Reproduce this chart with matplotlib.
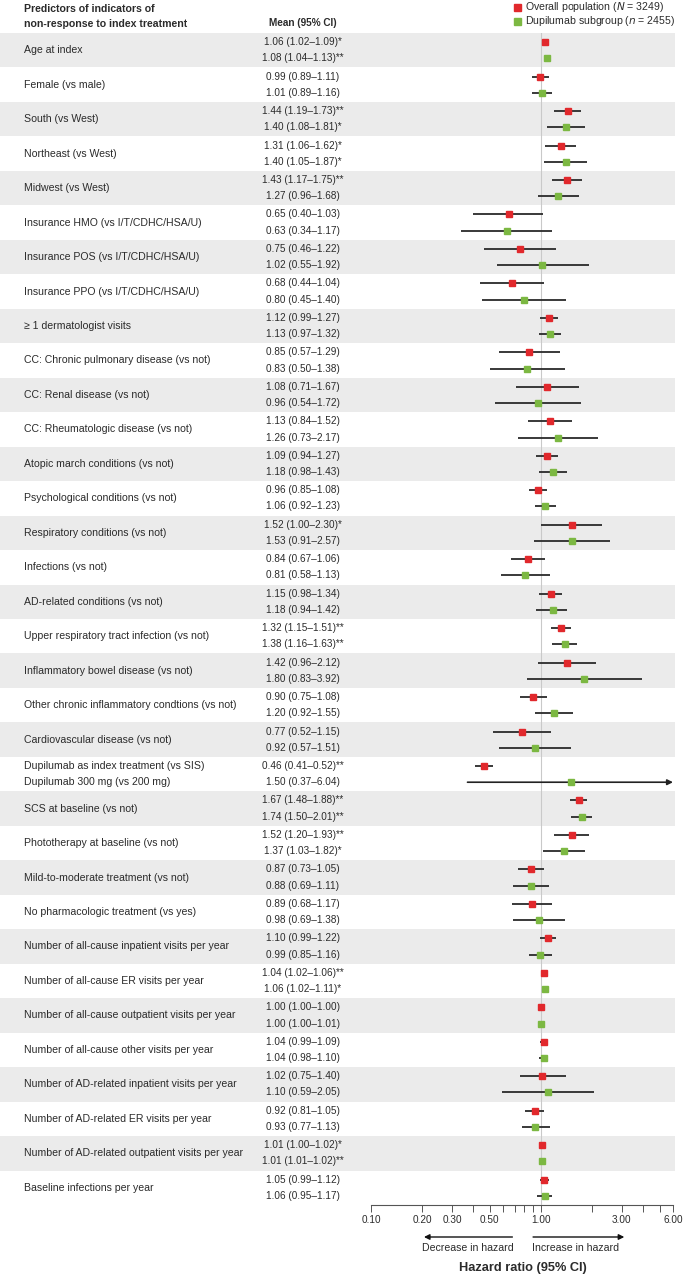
import numpy as np
import matplotlib
matplotlib.use("Agg")
import matplotlib.pyplot as plt
from matplotlib.transforms import blended_transform_factory

plt.rcParams["font.family"] = ["Liberation Sans", "DejaVu Sans"]

# ------------------------------------------------------------------ data
labels = [
    "Age at index", "Female (vs male)", "South (vs West)", "Northeast (vs West)",
    "Midwest (vs West)", "Insurance HMO (vs I/T/CDHC/HSA/U)",
    "Insurance POS (vs I/T/CDHC/HSA/U)", "Insurance PPO (vs I/T/CDHC/HSA/U)",
    "\u2265 1 dermatologist visits", "CC: Chronic pulmonary disease (vs not)",
    "CC: Renal disease (vs not)", "CC: Rheumatologic disease (vs not)",
    "Atopic march conditions (vs not)", "Psychological conditions (vs not)",
    "Respiratory conditions (vs not)", "Infections (vs not)",
    "AD-related conditions (vs not)", "Upper respiratory tract infection (vs not)",
    "Inflammatory bowel disease (vs not)",
    "Other chronic inflammatory condtions (vs not)",
    "Cardiovascular disease (vs not)",
    "Dupilumab as index treatment (vs SIS)\nDupilumab 300 mg (vs 200 mg)",
    "SCS at baseline (vs not)", "Phototherapy at baseline (vs not)",
    "Mild-to-moderate treatment (vs not)", "No pharmacologic treatment (vs yes)",
    "Number of all-cause inpatient visits per year",
    "Number of all-cause ER visits per year",
    "Number of all-cause outpatient visits per year",
    "Number of all-cause other visits per year",
    "Number of AD-related inpatient visits per year",
    "Number of AD-related ER visits per year",
    "Number of AD-related outpatient visits per year",
    "Baseline infections per year",
]

# overall population
ov_hr = [1.06, 0.99, 1.44, 1.31, 1.43, 0.65, 0.75, 0.68, 1.12, 0.85, 1.08, 1.13,
         1.09, 0.96, 1.52, 0.84, 1.15, 1.32, 1.42, 0.90, 0.77, 0.46, 1.67, 1.52,
         0.87, 0.89, 1.10, 1.04, 1.00, 1.04, 1.02, 0.92, 1.01, 1.05]
ov_lo = [1.02, 0.89, 1.19, 1.06, 1.17, 0.40, 0.46, 0.44, 0.99, 0.57, 0.71, 0.84,
         0.94, 0.85, 1.00, 0.67, 0.98, 1.15, 0.96, 0.75, 0.52, 0.41, 1.48, 1.20,
         0.73, 0.68, 0.99, 1.02, 1.00, 0.99, 0.75, 0.81, 1.00, 0.99]
ov_hi = [1.09, 1.11, 1.73, 1.62, 1.75, 1.03, 1.22, 1.04, 1.27, 1.29, 1.67, 1.52,
         1.27, 1.08, 2.30, 1.06, 1.34, 1.51, 2.12, 1.08, 1.15, 0.52, 1.88, 1.93,
         1.05, 1.17, 1.22, 1.06, 1.00, 1.09, 1.40, 1.05, 1.02, 1.12]
ov_sig = ["*", "", "**", "*", "**", "", "", "", "", "", "", "",
          "", "", "*", "", "", "**", "", "", "", "**", "**", "**",
          "", "", "", "**", "", "", "", "", "*", ""]

# dupilumab subgroup
du_hr = [1.08, 1.01, 1.40, 1.40, 1.27, 0.63, 1.02, 0.80, 1.13, 0.83, 0.96, 1.26,
         1.18, 1.06, 1.53, 0.81, 1.18, 1.38, 1.80, 1.20, 0.92, 1.50, 1.74, 1.37,
         0.88, 0.98, 0.99, 1.06, 1.00, 1.04, 1.10, 0.93, 1.01, 1.06]
du_lo = [1.04, 0.89, 1.08, 1.05, 0.96, 0.34, 0.55, 0.45, 0.97, 0.50, 0.54, 0.73,
         0.98, 0.92, 0.91, 0.58, 0.94, 1.16, 0.83, 0.92, 0.57, 0.37, 1.50, 1.03,
         0.69, 0.69, 0.85, 1.02, 1.00, 0.98, 0.59, 0.77, 1.01, 0.95]
du_hi = [1.13, 1.16, 1.81, 1.87, 1.68, 1.17, 1.92, 1.40, 1.32, 1.38, 1.72, 2.17,
         1.43, 1.23, 2.57, 1.13, 1.42, 1.63, 3.92, 1.55, 1.51, 6.04, 2.01, 1.82,
         1.11, 1.38, 1.16, 1.11, 1.01, 1.10, 2.05, 1.13, 1.02, 1.17]
du_sig = ["**", "", "*", "*", "", "", "", "", "", "", "", "",
          "", "", "", "", "", "**", "", "", "", "", "**", "*",
          "", "", "", "*", "", "", "", "", "**", ""]

major_ticks = [0.10, 0.20, 0.30, 0.50, 1.00, 3.00, 6.00]
minor_ticks = [0.4, 0.6, 0.7, 0.8, 0.9, 2, 4, 5]

RED = "#e1282c"
GREEN = "#7cb842"
BAND = "#ebebeb"
TXT = "#2b2b2b"
FS_LAB = 7.6
FS_MEAN = 7.2
FS_TICK = 7.2

# ---------------------------------------------------------------- layout
W, H = 685, 1278
fig = plt.figure(figsize=(W / 100, H / 100), dpi=100)
top_px, bot_px = 33, 1205
y0 = 1 - bot_px / H
hh = (bot_px - top_px) / H
n = len(labels)
ylim = (n - 0.5, -0.5)
off = 0.235

bg = fig.add_axes([0, y0, 1, hh])
bg.set_xlim(0, W)
bg.set_ylim(*ylim)
bg.axis("off")

ax = fig.add_axes([371 / W, y0, (673 - 371) / W, hh])
ax.set_facecolor("none")
ax.set_xscale("log")
ax.set_xlim(0.1, 6.0)
ax.set_ylim(*ylim)

for i, lab in enumerate(labels):
    if i % 2 == 0:
        bg.fill_between([0, 675], i - 0.5, i + 0.5, color=BAND, lw=0, zorder=0)
    parts = lab.split("\n")
    if len(parts) == 1:
        bg.text(24, i, lab, va="center", ha="left", fontsize=FS_LAB, color=TXT)
    else:
        bg.text(24, i - off, parts[0], va="center", ha="left", fontsize=FS_LAB, color=TXT)
        bg.text(24, i + off, parts[1], va="center", ha="left", fontsize=FS_LAB, color=TXT)
    t1 = f"{ov_hr[i]:.2f} ({ov_lo[i]:.2f}\u2013{ov_hi[i]:.2f}){ov_sig[i]}"
    t2 = f"{du_hr[i]:.2f} ({du_lo[i]:.2f}\u2013{du_hi[i]:.2f}){du_sig[i]}"
    bg.text(303, i - off, t1, va="center", ha="center", fontsize=FS_MEAN, color=TXT)
    bg.text(303, i + off, t2, va="center", ha="center", fontsize=FS_MEAN, color=TXT)

ax.axvline(1.0, color="#c9c9c9", lw=0.8, zorder=1)

ys = np.arange(n)
xmax = ax.get_xlim()[1]
for hr, lo, hi, col, dy in [(ov_hr, ov_lo, ov_hi, RED, -off),
                            (du_hr, du_lo, du_hi, GREEN, off)]:
    for i in range(n):
        y = ys[i] + dy
        if hi[i] > xmax:
            ax.annotate("", xy=(xmax, y), xytext=(lo[i], y),
                        arrowprops=dict(arrowstyle="-|>", color="#222222", lw=1.2,
                                        mutation_scale=8, shrinkA=0, shrinkB=0),
                        annotation_clip=False, zorder=2)
        else:
            ax.plot([lo[i], hi[i]], [y, y], color="#2a2a2a", lw=1.3,
                    solid_capstyle="butt", zorder=2)
    ax.plot(hr, ys + dy, "s", color=col, ms=5.0, mec=col, zorder=3)

for s in ["top", "right", "left"]:
    ax.spines[s].set_visible(False)
ax.spines["bottom"].set_color("#555555")
ax.spines["bottom"].set_linewidth(0.8)
ax.set_yticks([])
ax.set_xticks(major_ticks)
ax.set_xticklabels([f"{t:.2f}" for t in major_ticks])
ax.set_xticks(minor_ticks, minor=True)
ax.xaxis.set_minor_formatter(plt.NullFormatter())
ax.tick_params(axis="x", which="both", length=5, width=0.7, color="#555555",
               labelsize=FS_TICK, labelcolor=TXT, pad=2.5)

# direction arrows + axis title
tr = blended_transform_factory(ax.transData, fig.transFigure)
ya = 1 - 1237 / H
ax.annotate("", xy=(0.205, ya), xytext=(0.68, ya), xycoords=tr, textcoords=tr,
            arrowprops=dict(arrowstyle="-|>", color="#111111", lw=1.0,
                            mutation_scale=8, shrinkA=0, shrinkB=0))
ax.annotate("", xy=(3.1, ya), xytext=(0.9, ya), xycoords=tr, textcoords=tr,
            arrowprops=dict(arrowstyle="-|>", color="#111111", lw=1.0,
                            mutation_scale=8, shrinkA=0, shrinkB=0))
fig.text(468 / W, 1 - 1248 / H, "Decrease in hazard", ha="center",
         va="center", fontsize=FS_LAB, color=TXT)
fig.text(575 / W, 1 - 1248 / H, "Increase in hazard", ha="center",
         va="center", fontsize=FS_LAB, color=TXT)
fig.text(523 / W, 1 - 1268 / H, "Hazard ratio (95% CI)", ha="center", va="center",
         fontsize=9.2, fontweight="bold", color=TXT)

# header
fig.text(24 / W, 1 - 9 / H, "Predictors of indicators of", ha="left", va="center",
         fontsize=FS_LAB, fontweight="bold", color=TXT)
fig.text(24 / W, 1 - 24 / H, "non-response to index treatment", ha="left",
         va="center", fontsize=FS_LAB, fontweight="bold", color=TXT)
fig.text(303 / W, 1 - 23 / H, "Mean (95% CI)", ha="center", va="center",
         fontsize=FS_MEAN, fontweight="bold", color=TXT)

# legend
for yy, col, txt in [(7, RED, "Overall population ($\\it{N}$ = 3249)"),
                     (21, GREEN, "Dupilumab subgroup ($\\it{n}$ = 2455)")]:
    fig.patches.append(plt.Rectangle((514 / W, 1 - (yy + 3.5) / H), 7 / W, 7 / H,
                                     transform=fig.transFigure, color=col))
    fig.text(525 / W, 1 - yy / H, txt, ha="left", va="center", fontsize=7.6,
             color=TXT)

fig.savefig("out.png", dpi=100)
